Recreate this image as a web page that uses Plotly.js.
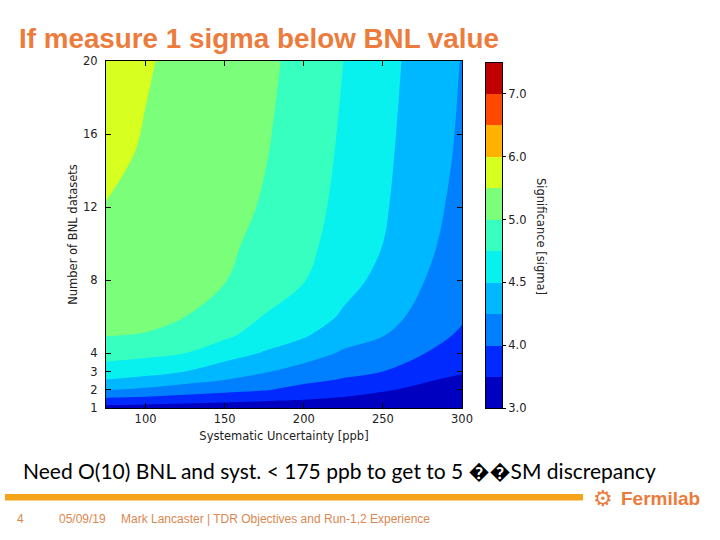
<!DOCTYPE html>
<html><head><meta charset="utf-8">
<script src="https://cdn.plot.ly/plotly-3.0.1.min.js"></script>
<style>html,body{margin:0;padding:0;background:#fff}#chart{width:720px;height:540px}</style>
</head><body><div id="chart"></div>
<script>
// ---- data ----
const systUnc = [75, 100, 125, 150, 175, 200, 225, 250, 275, 300];          // ppb
const nDatasets = [1, 1.25, 1.5, 2, 2.5, 3, 4, 5, 6, 8, 10, 12, 15, 20];     // BNL datasets
const significance = [                                                      // sigma, rows = nDatasets
  [3.28, 3.28, 3.27, 3.25, 3.25, 3.20, 3.15, 3.10, 3.05, 3.02],
  [3.61, 3.56, 3.50, 3.45, 3.40, 3.38, 3.30, 3.20, 3.10, 3.06],
  [3.93, 3.88, 3.78, 3.70, 3.60, 3.53, 3.45, 3.32, 3.20, 3.12],
  [4.26, 4.20, 4.13, 4.07, 4.02, 3.84, 3.70, 3.55, 3.39, 3.25],
  [4.48, 4.42, 4.32, 4.24, 4.15, 4.05, 3.95, 3.78, 3.55, 3.37],
  [4.63, 4.58, 4.50, 4.38, 4.27, 4.16, 4.06, 4.00, 3.71, 3.56],
  [4.85, 4.81, 4.75, 4.60, 4.48, 4.36, 4.22, 4.13, 4.01, 3.79],
  [5.02, 4.99, 4.90, 4.80, 4.64, 4.53, 4.35, 4.26, 4.11, 3.93],
  [5.15, 5.11, 5.00, 4.90, 4.74, 4.63, 4.47, 4.34, 4.18, 4.03],
  [5.32, 5.25, 5.15, 5.02, 4.86, 4.76, 4.58, 4.44, 4.26, 4.10],
  [5.42, 5.35, 5.24, 5.10, 4.93, 4.82, 4.64, 4.50, 4.31, 4.15],
  [5.49, 5.41, 5.29, 5.16, 4.98, 4.85, 4.68, 4.53, 4.34, 4.18],
  [5.58, 5.47, 5.35, 5.21, 5.03, 4.89, 4.71, 4.55, 4.38, 4.21],
  [5.66, 5.53, 5.41, 5.26, 5.10, 4.93, 4.75, 4.58, 4.41, 4.24]
];
const levels = [3.0, 3.5, 4.0, 4.25, 4.5, 4.75, 5.0, 5.5, 6.0, 6.5, 7.0, 7.5];
const bandColors = ['rgb(0,0,192)', 'rgb(0,42,255)', 'rgb(0,128,255)', 'rgb(0,184,255)',
  'rgb(9,241,238)', 'rgb(55,255,192)', 'rgb(123,255,123)', 'rgb(215,255,32)',
  'rgb(255,178,0)', 'rgb(255,72,0)', 'rgb(192,0,0)'];
const xTickVals = [100, 150, 200, 250, 300];
const yTickVals = [1, 2, 3, 4, 8, 12, 16, 20];
const cbTickLevels = [3.0, 4.0, 4.5, 5.0, 6.0, 7.0];

// ---- helpers ----
function toIndex(v) {   // sigma -> level index (levels are unevenly spaced)
  for (let k = 0; k < levels.length - 1; k++) {
    if (v <= levels[k + 1]) return k + (v - levels[k]) / (levels[k + 1] - levels[k]);
  }
  return levels.length - 1;
}
const zIdx = significance.map(r => r.map(toIndex));
const nB = bandColors.length;            // 11 bands
const nLev = levels.length;              // 12 levels
const csContour = [];
bandColors.forEach((c, k) => {
  const lo = k === 0 ? 0 : (k + 0.5) / nLev;
  const hi = k === nB - 1 ? 1 : (k + 1.5) / nLev;
  csContour.push([lo, c], [hi, c]);
});
const csBar = [];
bandColors.forEach((c, k) => { csBar.push([k / nB, c], [(k + 1) / nB, c]); });
const barZ = bandColors.map((c, k) => [k]);
const barY = bandColors.map((c, k) => k);
const cbTickVals = cbTickLevels.map(l => levels.indexOf(l) - 0.5);
const cbTickText = cbTickLevels.map(l => l.toFixed(1));

// pixel -> paper helpers (plot paper spans x 106..560, y 61..408)
const PL = 106, PW = 454, PT = 61, PH = 347;
const px = v => (v - PL) / PW;
const py = v => (PT + PH - v) / PH;

const tickFont = {family: 'DejaVu Sans', size: 11.5, color: '#222'};
const orange = '#EC7B3C';
const footOrange = '#D9884F';

const traces = [
  {type: 'contour', x: systUnc, y: nDatasets, z: zIdx, xaxis: 'x', yaxis: 'y',
   autocontour: false, contours: {start: 0, end: nLev - 1, size: 1, coloring: 'fill', showlines: false},
   line: {width: 0, smoothing: 1}, colorscale: csContour, showscale: false, hoverinfo: 'skip'},
  {type: 'heatmap', x: [0.5], y: barY, z: barZ, xaxis: 'x2', yaxis: 'y2',
   colorscale: csBar, zmin: -0.5, zmax: nB - 0.5, showscale: false, hoverinfo: 'skip'}
];

const layout = {
  width: 720, height: 540,
  paper_bgcolor: '#fff', plot_bgcolor: '#fff',
  margin: {l: PL, r: 720 - PL - PW, t: PT, b: 540 - PT - PH, pad: 0},
  showlegend: false,
  title: {text: '<b>If measure 1 sigma below BNL value</b>', xref: 'container', yref: 'container',
          x: 19 / 720, xanchor: 'left', y: 1 - 38 / 540, yanchor: 'middle',
          font: {family: 'Liberation Sans, Arial', size: 27.8, color: orange}},
  xaxis: {domain: [0, px(462)], range: [75, 300], tickvals: xTickVals, ticks: 'inside', ticklen: 5,
          tickcolor: '#000', showline: true, linecolor: '#000', linewidth: 1, mirror: 'allticks',
          showgrid: false, zeroline: false, tickfont: tickFont, ticklabelstandoff: 0,
          title: {text: 'Systematic Uncertainty [ppb]', font: tickFont, standoff: 7}, anchor: 'y'},
  yaxis: {domain: [0, 1], range: [1, 20], tickvals: yTickVals, ticks: 'inside', ticklen: 5,
          tickcolor: '#000', showline: true, linecolor: '#000', linewidth: 1, mirror: 'allticks',
          showgrid: false, zeroline: false, tickfont: tickFont, ticklabelstandoff: 5,
          title: {text: 'Number of BNL datasets', font: tickFont, standoff: 3}, anchor: 'x'},
  xaxis2: {domain: [px(486), px(502)], range: [0, 1], showticklabels: false, ticks: '',
           showline: true, linecolor: '#000', linewidth: 1, mirror: true, showgrid: false,
           zeroline: false, anchor: 'y2'},
  yaxis2: {domain: [0, py(62.5)], range: [-0.5, nB - 0.5], side: 'right', tickvals: cbTickVals,
           ticktext: cbTickText, ticks: 'outside', ticklen: 3, tickcolor: '#000',
           showline: true, linecolor: '#000', linewidth: 1, mirror: true, showgrid: false,
           zeroline: false, tickfont: tickFont, anchor: 'x2'},
  shapes: [
    {type: 'rect', xref: 'paper', yref: 'paper', x0: px(5), x1: px(583), y0: py(500.5), y1: py(494),
     fillcolor: '#F5A51C', line: {width: 0}}
  ],
  annotations: [
    {text: 'Significance [sigma]', xref: 'paper', yref: 'paper', x: px(541), y: py(236),
     xanchor: 'center', yanchor: 'middle', textangle: 90, showarrow: false, font: tickFont},
    {text: 'Need O(10) BNL and syst. < 175 ppb to get to 5 \uFFFD\uFFFDSM discrepancy', xref: 'paper', yref: 'paper',
     x: px(21), y: py(470), xanchor: 'left', yanchor: 'middle', showarrow: false,
     font: {family: 'Lato, Open Sans', size: 21, color: '#000'}},
    {text: '\u2699', xref: 'paper', yref: 'paper', x: px(603), y: py(498), xanchor: 'center',
     yanchor: 'middle', showarrow: false, font: {family: 'DejaVu Sans', size: 22, color: orange}},
    {text: '<b>Fermilab</b>', xref: 'paper', yref: 'paper', x: px(619), y: py(498), xanchor: 'left',
     yanchor: 'middle', showarrow: false, font: {family: 'Liberation Sans, Arial', size: 19, color: orange}},
    {text: '4', xref: 'paper', yref: 'paper', x: px(20), y: py(519), xanchor: 'center', yanchor: 'middle',
     showarrow: false, font: {family: 'Liberation Sans, Arial', size: 12, color: footOrange}},
    {text: '05/09/19', xref: 'paper', yref: 'paper', x: px(57), y: py(519), xanchor: 'left', yanchor: 'middle',
     showarrow: false, font: {family: 'Liberation Sans, Arial', size: 12, color: footOrange}},
    {text: 'Mark Lancaster | TDR Objectives and Run-1,2 Experience', xref: 'paper', yref: 'paper',
     x: px(119), y: py(519), xanchor: 'left', yanchor: 'middle', showarrow: false,
     font: {family: 'Liberation Sans, Arial', size: 12, color: footOrange}}
  ]
};

Plotly.newPlot('chart', traces, layout, {staticPlot: true, displayModeBar: false});
</script>
</body></html>
